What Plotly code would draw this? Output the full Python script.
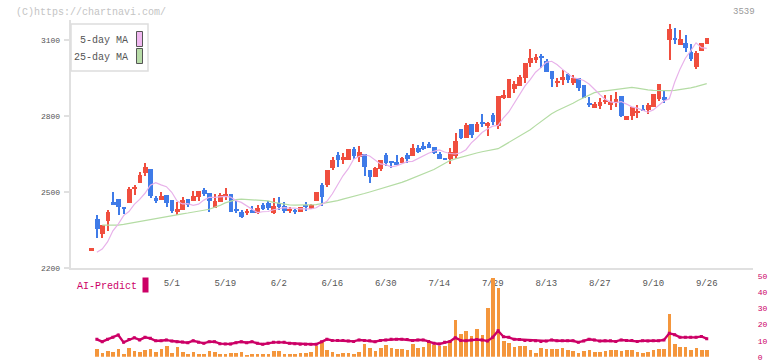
import plotly.graph_objects as go

W, H = 772, 361

dates = ["2025-" + d for d in [
    "04-09", "04-10", "04-11", "04-14", "04-15", "04-16", "04-17", "04-18", "04-21", "04-22",
    "04-23", "04-24", "04-25", "04-28", "04-30", "05-01", "05-02", "05-07", "05-08", "05-09",
    "05-12", "05-13", "05-14", "05-15", "05-16", "05-19", "05-20", "05-21", "05-22", "05-23",
    "05-26", "05-27", "05-28", "05-29", "05-30", "06-02", "06-03", "06-04", "06-05", "06-06",
    "06-09", "06-10", "06-11", "06-12", "06-13", "06-16", "06-17", "06-18", "06-19", "06-20",
    "06-23", "06-24", "06-25", "06-26", "06-27", "06-30", "07-01", "07-02", "07-03", "07-04",
    "07-07", "07-08", "07-09", "07-10", "07-11", "07-14", "07-15", "07-16", "07-17", "07-18",
    "07-22", "07-23", "07-24", "07-25", "07-28", "07-29", "07-30", "07-31", "08-01", "08-04",
    "08-05", "08-06", "08-07", "08-08", "08-12", "08-13", "08-14", "08-15", "08-18", "08-19",
    "08-20", "08-21", "08-22", "08-25", "08-26", "08-27", "08-28", "08-29", "09-01", "09-02",
    "09-03", "09-04", "09-05", "09-08", "09-09", "09-10", "09-11", "09-12", "09-16", "09-17",
    "09-18", "09-19", "09-22", "09-24", "09-25", "09-26"]]

opens = [
    2271, 2394, 2335, 2387, 2461, 2472, 2441, 2458, 2511, 2537,
    2576, 2591, 2476, 2468, 2488, 2468, 2421, 2429, 2472, 2465,
    2480, 2508, 2496, 2438, 2462, 2483, 2491, 2430, 2421, 2420,
    2429, 2416, 2449, 2458, 2416, 2458, 2445, 2425, 2425, 2422,
    2450, 2433, 2466, 2528, 2528, 2594, 2646, 2626, 2626, 2669,
    2640, 2650, 2587, 2561, 2591, 2646, 2619, 2619, 2614, 2646,
    2642, 2673, 2683, 2690, 2676, 2650, 2632, 2629, 2642, 2749,
    2712, 2768, 2738, 2778, 2762, 2804, 2761, 2870, 2873, 2908,
    2920, 2951, 3008, 3021, 3038, 3017, 2978, 2932, 2942, 2965,
    2932, 2949, 2922, 2849, 2832, 2838, 2858, 2845, 2850, 2878,
    2786, 2799, 2815, 2828, 2822, 2835, 2867, 2875, 3101, 3108,
    3079, 3088, 3053, 2993, 3055, 3086]
highs = [
    2271, 2409, 2370, 2428, 2500, 2472, 2441, 2519, 2529, 2580,
    2616, 2591, 2484, 2500, 2488, 2468, 2460, 2482, 2472, 2504,
    2504, 2516, 2496, 2492, 2497, 2515, 2492, 2466, 2429, 2433,
    2445, 2450, 2456, 2466, 2476, 2480, 2462, 2442, 2433, 2441,
    2460, 2454, 2499, 2534, 2588, 2637, 2657, 2655, 2670, 2678,
    2682, 2651, 2588, 2600, 2627, 2653, 2622, 2646, 2637, 2653,
    2690, 2686, 2696, 2696, 2677, 2659, 2633, 2673, 2732, 2749,
    2771, 2769, 2778, 2808, 2778, 2811, 2880, 2903, 2947, 2940,
    2962, 3011, 3063, 3045, 3045, 3024, 2979, 2949, 2982, 2969,
    2962, 2950, 2923, 2875, 2855, 2871, 2882, 2882, 2895, 2879,
    2801, 2835, 2843, 2843, 2851, 2888, 2927, 2902, 3163, 3147,
    3138, 3118, 3084, 3055, 3088, 3108]
lows = [
    2271, 2320, 2318, 2347, 2450, 2409, 2413, 2458, 2487, 2537,
    2563, 2475, 2456, 2468, 2440, 2418, 2409, 2429, 2440, 2465,
    2465, 2484, 2421, 2438, 2460, 2468, 2420, 2418, 2399, 2410,
    2418, 2414, 2429, 2429, 2414, 2429, 2416, 2418, 2414, 2422,
    2425, 2433, 2466, 2446, 2518, 2587, 2600, 2611, 2626, 2629,
    2620, 2563, 2534, 2561, 2584, 2603, 2594, 2607, 2613, 2614,
    2642, 2655, 2666, 2673, 2649, 2629, 2628, 2611, 2629, 2708,
    2712, 2715, 2738, 2758, 2721, 2765, 2749, 2869, 2870, 2892,
    2919, 2929, 2995, 3008, 2988, 2975, 2913, 2916, 2922, 2931,
    2922, 2900, 2872, 2834, 2831, 2829, 2847, 2825, 2834, 2796,
    2785, 2785, 2792, 2818, 2809, 2835, 2860, 2851, 3022, 3084,
    3079, 3051, 3018, 2987, 3055, 3086]
closes = [
    2271, 2354, 2370, 2421, 2450, 2440, 2433, 2512, 2521, 2567,
    2600, 2486, 2466, 2484, 2458, 2425, 2433, 2468, 2449, 2484,
    2504, 2492, 2465, 2465, 2488, 2491, 2422, 2427, 2403, 2422,
    2419, 2437, 2433, 2437, 2445, 2440, 2424, 2434, 2423, 2441,
    2442, 2450, 2499, 2482, 2587, 2626, 2626, 2638, 2670, 2642,
    2658, 2600, 2561, 2594, 2626, 2616, 2617, 2608, 2633, 2630,
    2673, 2659, 2670, 2675, 2655, 2632, 2629, 2659, 2701, 2715,
    2765, 2725, 2768, 2771, 2771, 2778, 2879, 2883, 2946, 2925,
    2955, 3010, 3030, 3034, 3032, 2975, 2945, 2940, 2955, 2942,
    2951, 2910, 2873, 2846, 2847, 2855, 2860, 2855, 2867, 2799,
    2801, 2834, 2819, 2822, 2842, 2887, 2926, 2864, 3145, 3101,
    3105, 3068, 3026, 3049, 3088, 3108]

ma5 = [
    None, 2262, 2275, 2303, 2347, 2373, 2407, 2423, 2451, 2471,
    2495, 2527, 2537, 2528, 2521, 2499, 2464, 2453, 2454, 2447,
    2452, 2468, 2479, 2479, 2482, 2483, 2480, 2466, 2459, 2446,
    2433, 2419, 2422, 2423, 2430, 2434, 2438, 2436, 2436, 2433,
    2432, 2433, 2438, 2451, 2463, 2492, 2529, 2564, 2592, 2629,
    2640, 2647, 2642, 2626, 2611, 2608, 2599, 2603, 2612, 2620,
    2621, 2632, 2641, 2653, 2661, 2666, 2658, 2652, 2650, 2655,
    2667, 2694, 2713, 2735, 2749, 2760, 2763, 2793, 2816, 2851,
    2882, 2918, 2944, 2973, 2991, 3012, 3016, 3003, 2985, 2969,
    2951, 2947, 2940, 2926, 2904, 2885, 2866, 2856, 2853, 2857,
    2847, 2836, 2831, 2824, 2815, 2824, 2841, 2859, 2868, 2933,
    2985, 3028, 3057, 3089, 3070, 3067]
ma25 = [
    None, None, 2369, 2369, 2369, 2369, 2372, 2376, 2380, 2384,
    2388, 2391, 2395, 2399, 2403, 2407, 2410, 2414, 2417, 2420,
    2424, 2428, 2432, 2439, 2447, 2457, 2464, 2470, 2472, 2471,
    2471, 2470, 2468, 2465, 2459, 2455, 2452, 2449, 2448, 2448,
    2449, 2449, 2450, 2454, 2458, 2461, 2466, 2472, 2477, 2483,
    2488, 2494, 2500, 2506, 2512, 2519, 2526, 2531, 2538, 2546,
    2554, 2562, 2571, 2580, 2589, 2601, 2612, 2624, 2631, 2637,
    2645, 2649, 2654, 2659, 2663, 2667, 2671, 2683, 2695, 2707,
    2719, 2733, 2746, 2762, 2777, 2795, 2809, 2821, 2830, 2839,
    2850, 2862, 2873, 2884, 2892, 2896, 2899, 2903, 2906, 2909,
    2911, 2913, 2910, 2906, 2903, 2901, 2900, 2900, 2900, 2901,
    2904, 2908, 2911, 2916, 2923, 2928]
volume = [
    None, 5.3, 2.8, 4.0, 3.4, 5.3, 2.2, 5.9, 4.0, 3.4,
    4.7, 5.3, 3.4, 5.3, 7.2, 2.8, 6.5, 3.4, 2.2, 3.4,
    2.2, 2.2, 4.0, 3.4, 2.2, 2.2, 2.8, 2.8, 3.4, 1.6,
    2.2, 2.2, 2.2, 2.2, 4.0, 4.0, 2.2, 2.2, 2.2, 2.8,
    2.8, 3.4, 7.2, 9.7, 4.7, 3.4, 2.2, 2.8, 2.8, 2.2,
    3.4, 8.4, 5.9, 4.0, 5.9, 7.8, 5.9, 5.3, 5.3, 4.7,
    8.4, 5.9, 6.5, 9.7, 7.8, 7.2, 7.2, 10.3, 23.3, 14.6,
    16.5, 13.4, 17.7, 14.0, 30.8, 49.5, 43.3, 10.3, 9.0, 6.5,
    7.2, 7.2, 4.7, 2.8, 5.9, 5.3, 5.3, 5.3, 5.9, 4.7,
    4.0, 2.8, 4.0, 4.7, 3.4, 3.4, 4.0, 4.7, 4.7, 4.0,
    4.7, 4.7, 3.4, 2.8, 3.4, 4.7, 5.3, 5.3, 27.1, 8.4,
    6.5, 6.5, 4.7, 5.9, 4.7, 4.7]
ai_predict = [
    None, 10.9, 9.4, 10.9, 12.1, 13.6, 9.0, 10.7, 11.9, 10.5,
    12.1, 11.5, 10.0, 10.0, 10.5, 9.8, 9.4, 9.2, 8.8, 10.0,
    9.0, 8.4, 9.4, 9.4, 8.2, 8.0, 8.0, 8.8, 9.4, 8.8,
    9.4, 8.4, 7.8, 8.4, 9.0, 9.0, 9.0, 8.4, 8.2, 7.8,
    7.8, 7.8, 7.8, 9.4, 10.9, 10.2, 10.2, 10.2, 9.8, 9.6,
    10.5, 10.2, 10.0, 9.4, 10.2, 10.5, 10.9, 10.9, 10.9, 10.7,
    10.2, 10.5, 10.5, 9.6, 8.4, 8.0, 9.0, 9.6, 11.9, 10.2,
    10.0, 10.5, 10.7, 10.5, 9.8, 12.1, 16.2, 12.5, 12.1, 10.9,
    10.7, 10.2, 10.2, 10.0, 9.6, 9.8, 10.5, 10.0, 10.0, 10.0,
    10.0, 9.0, 9.8, 10.9, 10.5, 9.8, 10.0, 10.0, 9.6, 10.5,
    10.2, 10.2, 9.6, 10.0, 9.8, 10.0, 10.0, 10.5, 14.6, 13.8,
    12.1, 12.1, 12.1, 12.1, 12.7, 11.3]

tick_dates = ["2025-05-01", "2025-05-19", "2025-06-02", "2025-06-16", "2025-06-30", "2025-07-14",
              "2025-07-29", "2025-08-13", "2025-08-27", "2025-09-10", "2025-09-26"]
tick_text = ["5/1", "5/19", "6/2", "6/16", "6/30", "7/14", "7/29", "8/13", "8/27", "9/10", "9/26"]
price_ticks = [2200, 2500, 2800, 3100]
ai_ticks = [0, 10, 20, 30, 40, 50]

RED = "#f04e3e"
BLUE = "#3f7be8"
PINK = "#e8b2ea"
GREEN = "#b4dca4"
ORANGE = "#f4963c"
CRIMSON = "#cc0066"
AXIS = "#e0e0e0"
TEXT = "#555555"
FONT = "Liberation Mono, DejaVu Sans Mono, monospace"


def px(x):
    return x / W


def py(y):
    return 1 - y / H


colors = [RED if c >= o else BLUE for o, c in zip(opens, closes)]
body_base = [min(o, c) for o, c in zip(opens, closes)]
body_h = [max(abs(c - o), 6) for o, c in zip(opens, closes)]
wick_h = [max(h - l, 0.001) for h, l in zip(highs, lows)]

fig = go.Figure()
fig.add_trace(go.Bar(x=dates, y=wick_h, base=lows, width=0.2,
                     marker=dict(color=colors, line=dict(width=0)), yaxis="y"))
fig.add_trace(go.Bar(x=dates, y=body_h, base=body_base, width=0.88,
                     marker=dict(color=colors, line=dict(width=0)), yaxis="y"))
fig.add_trace(go.Bar(x=dates, y=volume, width=0.68,
                     marker=dict(color=ORANGE, line=dict(width=0)), yaxis="y2"))
fig.add_trace(go.Scatter(x=dates, y=ma25, mode="lines", line=dict(color=GREEN, width=1.2), yaxis="y"))
fig.add_trace(go.Scatter(x=dates, y=ma5, mode="lines", line=dict(color=PINK, width=1.2), yaxis="y"))
fig.add_trace(go.Scatter(x=dates, y=ai_predict, mode="lines+markers",
                         line=dict(color=CRIMSON, width=2.4),
                         marker=dict(symbol="square", size=3, color=CRIMSON), yaxis="y2"))

shapes = [
    dict(type="rect", xref="paper", yref="paper", x0=px(71), x1=px(148), y0=py(71), y1=py(24),
         line=dict(color="#dddddd", width=1.5), fillcolor="white", layer="above"),
    dict(type="rect", xref="paper", yref="paper", x0=px(136.5), x1=px(142.5), y0=py(46.5), y1=py(31.5),
         line=dict(color="#555555", width=1), fillcolor="#f0b8f0", layer="above"),
    dict(type="rect", xref="paper", yref="paper", x0=px(136.5), x1=px(142.5), y0=py(63.5), y1=py(48.5),
         line=dict(color="#555555", width=1), fillcolor="#b8dca8", layer="above"),
    dict(type="rect", xref="paper", yref="paper", x0=px(142.5), x1=px(148.5), y0=py(292.5), y1=py(277.5),
         line=dict(width=0), fillcolor=CRIMSON, layer="above"),
]

annotations = [
    dict(text="(C)https://chartnavi.com/", x=px(14), y=py(12), xref="paper", yref="paper",
         xanchor="left", yanchor="middle", showarrow=False, font=dict(size=10, color="#c4c4c4", family=FONT)),
    dict(text="3539", x=px(757), y=py(12), xref="paper", yref="paper",
         xanchor="right", yanchor="middle", showarrow=False, font=dict(size=9, color="#999999", family=FONT)),
    dict(text="5-day MA", x=px(130), y=py(40), xref="paper", yref="paper",
         xanchor="right", yanchor="middle", showarrow=False, font=dict(size=10, color=TEXT, family=FONT)),
    dict(text="25-day MA", x=px(130), y=py(57), xref="paper", yref="paper",
         xanchor="right", yanchor="middle", showarrow=False, font=dict(size=10, color=TEXT, family=FONT)),
    dict(text="AI-Predict", x=px(75), y=py(286), xref="paper", yref="paper",
         xanchor="left", yanchor="middle", showarrow=False, font=dict(size=10, color=CRIMSON, family=FONT)),
]

x_lo = (70.7 - 91.5) / 5.35
x_hi = (752.7 - 91.5) / 5.35

fig.update_layout(
    width=W, height=H, margin=dict(l=0, r=0, t=0, b=0),
    template="none", paper_bgcolor="white", plot_bgcolor="white",
    showlegend=False, barmode="overlay", bargap=0,
    font=dict(family=FONT, color=TEXT),
    shapes=shapes, annotations=annotations,
    xaxis=dict(type="category", domain=[px(70.7), px(752.7)], range=[x_lo, x_hi], anchor="y",
               tickmode="array", tickvals=tick_dates, ticktext=tick_text, ticks="",
               showline=True, linecolor=AXIS, linewidth=2, showgrid=False, zeroline=False,
               tickfont=dict(size=9, color=TEXT, family=FONT), ticklabelstandoff=5),
    xaxis3=dict(type="linear", overlaying="x", anchor="y", range=[0, 11], tickmode="array",
                tickvals=list(range(12)), ticks="inside", ticklen=4, tickwidth=2, tickcolor=AXIS,
                showticklabels=False, showgrid=False, zeroline=False, showline=False),
    yaxis=dict(domain=[py(268), py(20)], range=[2200, 2200 + (268 - 20) * 900 / 228], anchor="x",
               tickmode="array", tickvals=price_ticks, ticks="outside", ticklen=5, tickwidth=2,
               tickcolor=AXIS, showline=True, linecolor=AXIS, linewidth=2, showgrid=False,
               zeroline=False, tickfont=dict(size=8, color=TEXT, family=FONT), ticklabelstandoff=2),
    yaxis2=dict(domain=[py(356.8), py(276.5)], range=[0, 50], side="right", anchor="x",
                tickmode="array", tickvals=ai_ticks, ticks="", showline=False, showgrid=False,
                zeroline=False, ticklabeloverflow="allow",
                tickfont=dict(size=8, color=CRIMSON, family=FONT), ticklabelstandoff=4),
)

fig.write_html("out.html", config={"displayModeBar": False},
               post_script="document.body.style.margin='0';document.body.style.overflow='hidden';")
